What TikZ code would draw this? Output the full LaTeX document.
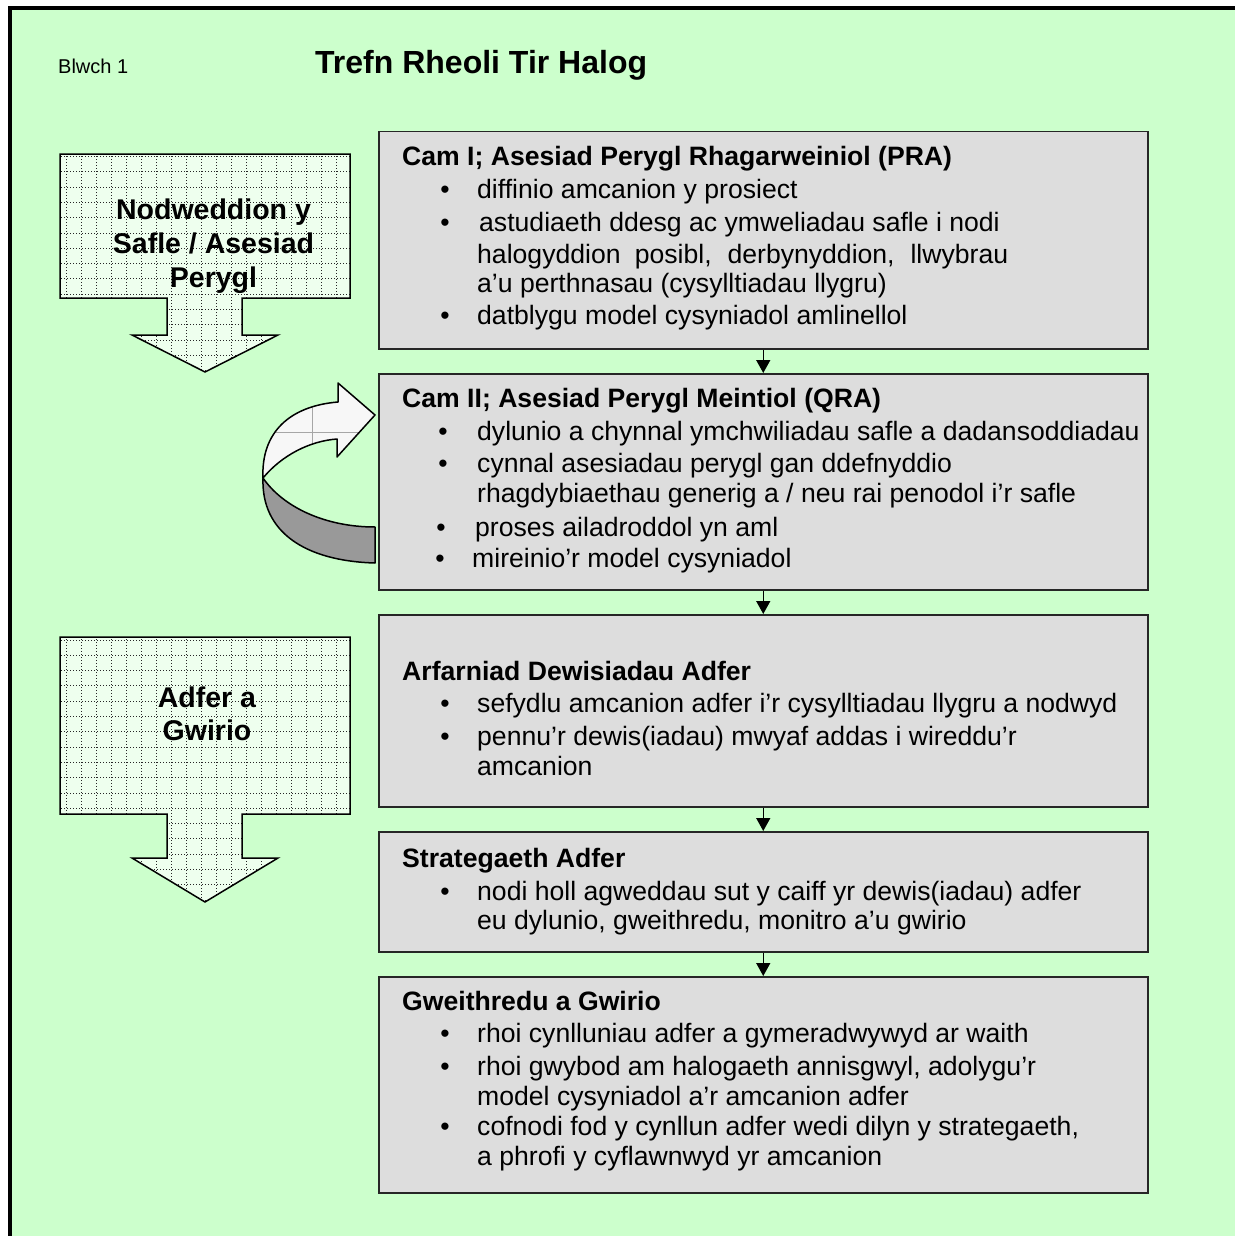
\documentclass[tikz,border=0pt]{standalone}
\usepackage{fontspec}
\setmainfont{Liberation Sans}
\usetikzlibrary{arrows.meta}
\definecolor{bggreen}{HTML}{CCFFCC}
\definecolor{boxgray}{HTML}{DDDDDD}
\definecolor{gridfill}{HTML}{EEFFEE}
\definecolor{ribbon}{HTML}{999999}
\tikzset{
  stagebox/.style={draw=black!85, line width=1.5pt, fill=boxgray, inner sep=0pt, anchor=north west},
  txt/.style={anchor=base west, inner sep=0pt, font=\fontsize{26.6}{31}\selectfont},
  head/.style={anchor=base west, inner sep=0pt, font=\fontsize{26.6}{31}\selectfont\bfseries},
  bul/.style={anchor=base, inner sep=0pt, font=\fontsize{26.6}{31}\selectfont},
  sidetxt/.style={anchor=base, inner sep=0pt, font=\fontsize{28.5}{34}\selectfont\bfseries},
  flow/.style={line width=1.5pt, -{Triangle[width=14pt,length=13pt]}},
  blockarrow/.style={draw=black, line width=1.5pt},
  gridline/.style={gray!30!black, line width=1pt, dash pattern=on 1pt off 2pt}
}
\begin{document}
\begin{tikzpicture}[x=1pt,y=-1pt]
\useasboundingbox (0,0) rectangle (1235,1236);
\fill[white] (0,0) rectangle (1235,1236);
\fill[bggreen] (10,8) rectangle (1235,1236);
\draw[black, line width=4pt] (10.3,1236) -- (10.3,8) -- (1235,8);

% title
\node[anchor=base west, inner sep=0pt, font=\fontsize{20}{24}\selectfont] (blwch) at (58,74) {Blwch 1};
\node[anchor=base west, inner sep=0pt, font=\fontsize{32}{38}\selectfont\bfseries] (title) at (315,74) {Trefn Rheoli Tir Halog};

% left block arrow 1
\path[fill=gridfill] (60,154) -- (350,154) -- (350,298) -- (242,298) -- (242,335) -- (278,335) -- (205,372) -- (132,335) -- (167,335) -- (167,298) -- (60,298) -- cycle;
\begin{scope}
\clip (60,154) -- (350,154) -- (350,298) -- (242,298) -- (242,335) -- (278,335) -- (205,372) -- (132,335) -- (167,335) -- (167,298) -- (60,298) -- cycle;
\foreach \gx in {0,...,19} {\draw[gridline] (66.7+15*\gx,150) -- (66.7+15*\gx,375);}
\foreach \gy in {0,...,14} {\draw[gridline] (55,156.5+15.3*\gy) -- (355,156.5+15.3*\gy);}
\end{scope}
\draw[blockarrow] (60,154) -- (350,154) -- (350,298) -- (242,298) -- (242,335) -- (278,335) -- (205,372) -- (132,335) -- (167,335) -- (167,298) -- (60,298) -- cycle;
\node[sidetxt] (s1a) at (213.5,219) {Nodweddion y};
\node[sidetxt] (s1b) at (213.5,253) {Safle / Asesiad};
\node[sidetxt] (s1c) at (213.5,287) {Perygl};

% left block arrow 2
\path[fill=gridfill] (60,637) -- (350,637) -- (350,814) -- (242,814) -- (242,858) -- (278,858) -- (205,902) -- (132,858) -- (167,858) -- (167,814) -- (60,814) -- cycle;
\begin{scope}
\clip (60,637) -- (350,637) -- (350,814) -- (242,814) -- (242,858) -- (278,858) -- (205,902) -- (132,858) -- (167,858) -- (167,814) -- (60,814) -- cycle;
\foreach \gx in {0,...,19} {\draw[gridline] (66.7+15*\gx,630) -- (66.7+15*\gx,905);}
\foreach \gy in {0,...,17} {\draw[gridline] (55,640+15.3*\gy) -- (355,640+15.3*\gy);}
\end{scope}
\draw[blockarrow] (60,637) -- (350,637) -- (350,814) -- (242,814) -- (242,858) -- (278,858) -- (205,902) -- (132,858) -- (167,858) -- (167,814) -- (60,814) -- cycle;
\node[sidetxt] (s2a) at (207,707) {Adfer a};
\node[sidetxt] (s2b) at (207,740) {Gwirio};

% curved arrow
\path[fill=black!3] (338,402) .. controls (290,406) and (261,432) .. (263,478) .. controls (282,455) and (310,441) .. (337,439) -- (337,457) -- (375,415) -- (338,383) -- cycle;
\begin{scope}
\clip (338,402) .. controls (290,406) and (261,432) .. (263,478) .. controls (282,455) and (310,441) .. (337,439) -- (337,457) -- (375,415) -- (338,383) -- cycle;
\draw[gray!70, line width=1pt] (255,432) -- (380,432);
\draw[gray!70, line width=1pt] (312,380) -- (312,470);
\end{scope}
\draw[blockarrow, line join=round] (338,402) .. controls (290,406) and (261,432) .. (263,478) .. controls (282,455) and (310,441) .. (337,439) -- (337,457) -- (375,415) -- (338,383) -- cycle;
\draw[blockarrow, fill=ribbon, line join=round] (263,478) .. controls (283,507) and (325,527) .. (375,527) -- (375,563) .. controls (305,561) and (261,532) .. (263,478) -- cycle;

% stage boxes
\node[stagebox, minimum width=769pt, minimum height=217pt] (b1) at (378,131) {};
\node[stagebox, minimum width=769pt, minimum height=216pt] (b2) at (378,373) {};
\node[stagebox, minimum width=769pt, minimum height=192pt] (b3) at (378,614) {};
\node[stagebox, minimum width=769pt, minimum height=120pt] (b4) at (378,831) {};
\node[stagebox, minimum width=769pt, minimum height=216pt] (b5) at (378,976) {};

\draw[flow] (b1.south) -- (b2.north);
\draw[flow] (b2.south) -- (b3.north);
\draw[flow] (b3.south) -- (b4.north);
\draw[flow] (b4.south) -- (b5.north);

% box 1 text
\node[head] (h1) at (402,165) {Cam I; Asesiad Perygl Rhagarweiniol (PRA)};
\node[bul] (p1a) at (445,198) {•};
\node[txt] (t1a) at (477,198) {diffinio amcanion y prosiect};
\node[bul] (p1b) at (445,231) {•};
\node[txt] (t1b) at (479,231) {astudiaeth ddesg ac ymweliadau safle i nodi};
\node[txt] (t1c) at (477,263) {\makebox[531pt][s]{halogyddion posibl, derbynyddion, llwybrau}};
\node[txt] (t1d) at (477,292) {a’u perthnasau (cysylltiadau llygru)};
\node[bul] (p1e) at (445,324) {•};
\node[txt] (t1e) at (477,324) {datblygu model cysyniadol amlinellol};

% box 2 text
\node[head] (h2) at (402,407) {Cam II; Asesiad Perygl Meintiol (QRA)};
\node[bul] (p2a) at (443,440) {•};
\node[txt] (t2a) at (477,440) {dylunio a chynnal ymchwiliadau safle a dadansoddiadau};
\node[bul] (p2b) at (443,472) {•};
\node[txt] (t2b) at (477,472) {cynnal asesiadau perygl gan ddefnyddio};
\node[txt] (t2c) at (477,502) {rhagdybiaethau generig a / neu rai penodol i’r safle};
\node[bul] (p2d) at (441,536) {•};
\node[txt] (t2d) at (475,536) {proses ailadroddol yn aml};
\node[bul] (p2e) at (440,567) {•};
\node[txt] (t2e) at (472,567) {mireinio’r model cysyniadol};

% box 3 text
\node[head] (h3) at (402,680) {Arfarniad Dewisiadau Adfer};
\node[bul] (p3a) at (445,712) {•};
\node[txt] (t3a) at (477,712) {sefydlu amcanion adfer i’r cysylltiadau llygru a nodwyd};
\node[bul] (p3b) at (445,745) {•};
\node[txt] (t3b) at (477,745) {pennu’r dewis(iadau) mwyaf addas i wireddu’r};
\node[txt] (t3c) at (477,775) {amcanion};

% box 4 text
\node[head] (h4) at (402,867) {Strategaeth Adfer};
\node[bul] (p4a) at (445,900) {•};
\node[txt] (t4a) at (477,900) {nodi holl agweddau sut y caiff yr dewis(iadau) adfer};
\node[txt] (t4b) at (477,929) {eu dylunio, gweithredu, monitro a’u gwirio};

% box 5 text
\node[head] (h5) at (402,1010) {Gweithredu a Gwirio};
\node[bul] (p5a) at (445,1042) {•};
\node[txt] (t5a) at (477,1042) {rhoi cynlluniau adfer a gymeradwywyd ar waith};
\node[bul] (p5b) at (445,1075) {•};
\node[txt] (t5b) at (477,1075) {rhoi gwybod am halogaeth annisgwyl, adolygu’r};
\node[txt] (t5c) at (477,1105) {model cysyniadol a’r amcanion adfer};
\node[bul] (p5d) at (445,1135) {•};
\node[txt] (t5d) at (477,1135) {cofnodi fod y cynllun adfer wedi dilyn y strategaeth,};
\node[txt] (t5e) at (477,1165) {a phrofi y cyflawnwyd yr amcanion};
\end{tikzpicture}
\end{document}
